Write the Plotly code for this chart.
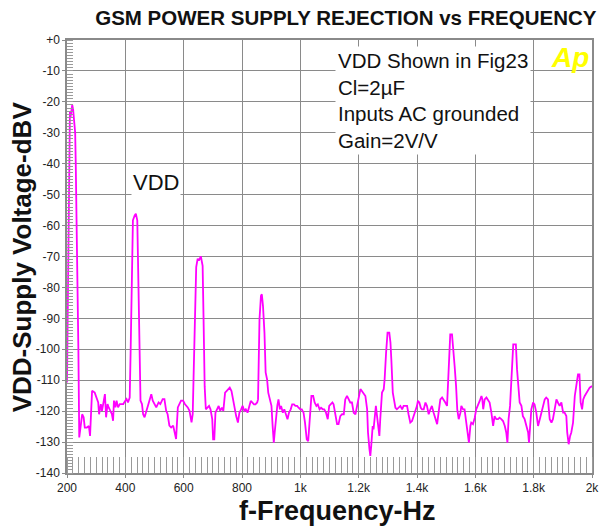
import plotly.graph_objects as go

freq_a = [200, 204, 207, 210, 212, 216, 218, 221, 225, 228,
          230, 232, 234, 236, 239, 242, 247, 252, 257, 261,
          268, 275, 279, 282, 286, 295, 302, 307, 310, 316,
          320, 326, 330, 334, 339, 343, 349, 354, 358, 361,
          366, 370, 375, 381, 386, 393, 400, 404, 409, 415,
          418, 423, 426, 432, 436, 441, 443, 448, 452, 457,
          461, 466, 472, 477]
dbv_a = [-110.7, -65, -36, -23, -25, -22, -21, -22.5, -27, -30,
         -40, -52, -67, -80, -100, -128.5, -125.3, -121, -122, -125.3,
         -125.3, -124.8, -128, -118.8, -113.4, -114, -115.6, -117.2, -121, -117.7,
         -119.9, -115.6, -114.5, -122, -117.7, -118.8, -119.9, -121, -123.1, -116.6,
         -118.8, -116.6, -118.8, -117.7, -117.7, -117.7, -116.6, -116.1, -117.2, -115.6,
         -101.5, -80, -58.3, -56.7, -56.2, -58.3, -70.2, -102.6, -116.6, -117.7,
         -121, -122, -119.9, -118.8]

freq_b = [483, 489, 494, 500, 506, 514, 520, 528, 534, 540,
          545, 551, 557, 564, 568, 574, 580, 585, 591, 598,
          604, 614, 620, 627, 631, 634, 639, 643, 648, 652]
dbv_b = [-116.6, -114.5, -116.6, -117.7, -118.8, -117.2, -117.7, -116.1, -116.1, -119.9,
         -121, -124.7, -125.3, -124.7, -126.3, -129, -118.8, -117.7, -116.6, -116.6,
         -117.7, -118.8, -119.9, -123.6, -121, -109, -90.7, -73.4, -70.7, -71.3]

freq_c = [659, 665, 668, 672, 676, 681, 687, 692, 698, 701,
          705, 709, 714, 720, 725, 731, 736, 742, 747, 753,
          758, 764, 769, 775, 780, 786, 791, 797, 802, 808,
          813, 819, 824, 830, 835, 841, 846, 852, 855, 857,
          860, 865, 868, 872, 877, 881, 886, 890, 896, 901,
          905, 909, 912, 916, 921, 925, 930, 934, 940, 945,
          951, 956, 961, 967, 972, 978, 983, 989, 994, 1000,
          1005, 1011, 1016, 1022, 1027, 1033, 1038, 1044, 1049, 1055,
          1060, 1066, 1071, 1077, 1082, 1088, 1094, 1099, 1104]
dbv_c = [-70, -73, -89, -112, -119.4, -118.9, -118.3, -119.4, -122.6, -129.1,
         -129.1, -120.5, -119.4, -118.3, -119.9, -118.9, -119.9, -114, -113.5, -112.9,
         -112.4, -113.5, -116.2, -118.3, -121.6, -123.7, -120.5, -119.4, -118.3, -119.9,
         -119.4, -120.5, -118.3, -116.7, -117.2, -117.8, -117.8, -117.2, -116.2, -103.2,
         -90.3, -82.7, -82.2, -86, -94.6, -107.5, -109.7, -114, -116.2, -118.3,
         -124.8, -130.2, -127, -122.6, -118.3, -116.2, -119.4, -118.3, -120.5, -119.4,
         -121.6, -122.6, -120.5, -119.4, -117.8, -117.8, -118.3, -118.3, -118.9, -119.4,
         -119.4, -120.5, -123.7, -129.1, -129.7, -119.4, -115.1, -115.1, -117.2, -118.3,
         -117.8, -119.4, -118.9, -119.4, -119.4, -120.5, -122.6, -118.3, -117.8]

freq_d = [1110, 1114, 1120, 1126, 1131, 1137, 1143, 1149, 1154, 1160,
          1166, 1171, 1177, 1183, 1189, 1194, 1200, 1206, 1211, 1217,
          1223, 1229, 1232, 1237, 1240, 1243, 1248, 1251, 1255, 1259,
          1263, 1266, 1271, 1274, 1278, 1280, 1286, 1289, 1294, 1299,
          1305, 1309, 1312, 1317, 1321, 1326, 1331, 1337, 1343, 1349,
          1354, 1360, 1366, 1371, 1377, 1383, 1389, 1394, 1400, 1403,
          1408, 1413, 1417, 1423, 1429, 1434, 1440, 1446, 1451, 1457,
          1463, 1469, 1474, 1480, 1486, 1491, 1497, 1503, 1506, 1511,
          1514, 1520, 1525, 1529, 1534, 1538, 1543, 1549]
dbv_d = [-117.2, -117.8, -120.5, -124.2, -124.2, -121.6, -121, -121, -116.2, -115.1,
         -116.2, -117.2, -117.2, -120.5, -121, -118.3, -115.1, -112.9, -113.5, -114.5,
         -115.1, -119.4, -126.9, -132.3, -134.5, -131.3, -124.8, -125.9, -122.6, -118.3,
         -121.6, -123.7, -128, -122.6, -118.3, -114, -112.9, -109.7, -101.1, -94.6,
         -94.6, -97.8, -103.2, -114, -116.2, -118.9, -119.4, -118.9, -118.3, -119.4,
         -118.3, -118.3, -118.3, -121, -123.7, -123.2, -121.6, -119.9, -118.3, -116.7,
         -117.2, -118.9, -119.4, -119.4, -117.2, -118.3, -121, -119.4, -118.3, -120.5,
         -122.1, -124.2, -120.5, -116.2, -115.6, -116.2, -117.2, -118.3, -110.8, -103.2,
         -95.2, -95.2, -100, -105.4, -111.9, -119.4, -122.6, -120.5]

freq_e = [1552, 1558, 1563, 1569, 1575, 1578, 1583, 1586, 1592, 1598,
          1603, 1609, 1615, 1621, 1624, 1627, 1632, 1638, 1643, 1649,
          1655, 1661, 1666, 1672, 1678, 1683, 1689, 1695, 1701, 1706,
          1710, 1714, 1719, 1723, 1727, 1730, 1735, 1739, 1743, 1746,
          1752, 1758, 1763, 1769, 1775, 1781, 1784, 1789, 1792, 1798,
          1803, 1809, 1815, 1821, 1826, 1832, 1838, 1843, 1849, 1855,
          1861, 1866, 1872, 1878, 1883, 1889, 1895, 1901, 1906, 1912,
          1915, 1920, 1925, 1929, 1935, 1941, 1946, 1952, 1957, 1961,
          1966, 1970, 1975, 1981, 1986, 1992, 2000]
dbv_e = [-118.3, -119.4, -119.4, -123.7, -126.9, -130.2, -124.8, -123.7, -124.2, -122.1,
         -119.4, -118.3, -116.7, -115.1, -116.2, -119.4, -116.2, -115.6, -116.2, -117.2,
         -120.5, -124.8, -121.6, -122.6, -122.6, -122.1, -122.6, -123.2, -124.8, -126.9,
         -130.2, -122.6, -118.3, -110.8, -105.4, -98.4, -98.4, -98.4, -106.5, -110.8,
         -117.2, -118.3, -121.6, -122.6, -124.8, -126.9, -130.2, -124.8, -119.4, -117.2,
         -117.8, -120.5, -124.8, -122.6, -120.5, -118.3, -116.2, -115.6, -116.2, -122.6,
         -123.7, -122.6, -119.4, -116.2, -117.2, -118.3, -117.2, -120.5, -120.5, -121.6,
         -126.9, -130.7, -128, -126.9, -123.7, -115.1, -111.9, -108.1, -108.1, -117.2,
         -119.4, -116.2, -115.1, -114, -113.5, -112.4, -111.9]

x_ticks = [200, 400, 600, 800, 1000, 1200, 1400, 1600, 1800, 2000]
x_labels = ["200", "400", "600", "800", "1k", "1.2k", "1.4k", "1.6k", "1.8k", "2k"]
y_ticks = list(range(0, -141, -10))
y_labels = ["+0"] + [str(v) for v in y_ticks[1:]]

notas = ["VDD Shown in Fig23", "Cl=2µF", "Inputs AC grounded", "Gain=2V/V"]

frecuencia = freq_a + freq_b + freq_c + freq_d + freq_e
nivel = dbv_a + dbv_b + dbv_c + dbv_d + dbv_e

ARIAL = "Liberation Sans, Arial, sans-serif"
GRID = "#8a8a8a"

fig = go.Figure()

fig.add_trace(
    go.Scatter(
        x=frecuencia,
        y=nivel,
        mode="lines",
        line=dict(color="#ff00ff", width=1.8),
        showlegend=False,
    )
)

fig.update_xaxes(
    range=[200, 2000],
    tickvals=x_ticks,
    ticktext=x_labels,
    showgrid=True, gridcolor=GRID, gridwidth=1.4,
    showline=True, linecolor=GRID, linewidth=1.5, mirror=True,
    ticks="outside", ticklen=3, tickcolor=GRID,
    tickfont=dict(family=ARIAL, size=12, color="#222"),
    minor=dict(tick0=200, dtick=20, ticks="inside", ticklen=16,
               tickcolor="#9a9a9a", tickwidth=1, showgrid=False),
    zeroline=False,
)

fig.update_yaxes(
    range=[-140, 0],
    tickvals=y_ticks,
    ticktext=y_labels,
    showgrid=True, gridcolor=GRID, gridwidth=1.4,
    showline=True, linecolor=GRID, linewidth=1.5, mirror=True,
    ticks="outside", ticklen=3, tickcolor=GRID,
    tickfont=dict(family=ARIAL, size=12, color="#222"),
    minor=dict(dtick=1, ticks="inside", ticklen=6,
               tickcolor="#9a9a9a", tickwidth=1, showgrid=False),
    zeroline=False,
)

# Titulos de los ejes como anotaciones para ubicarlos a mano
fig.add_annotation(
    text="<b>VDD-Supply Voltage-dBV</b>", xref="paper", yref="paper",
    x=-0.086, y=0.5, xanchor="center", yanchor="middle",
    textangle=-90, showarrow=False,
    font=dict(family=ARIAL, size=26, color="#111"),
)
fig.add_annotation(
    text="<b>f-Frequency-Hz</b>", xref="paper", yref="paper",
    x=0.515, y=-0.088, xanchor="center", yanchor="middle", showarrow=False,
    font=dict(family=ARIAL, size=27, color="#111"),
)

# Recuadro de condiciones
fig.add_annotation(
    text="<br>".join(notas), xref="paper", yref="paper",
    x=0.51, y=0.987, xanchor="left", yanchor="top", align="left",
    showarrow=False, bgcolor="white", borderpad=2,
    font=dict(family=ARIAL, size=20.5, color="#111"),
)

fig.add_annotation(
    text="VDD", x=505, y=-46, showarrow=False, bgcolor="white",
    font=dict(family=ARIAL, size=22, color="#111"),
)

fig.add_annotation(
    text="<b><i>Ap</i></b>", x=1925, y=-5.5, showarrow=False,
    font=dict(family=ARIAL, size=28, color="#ffff00"),
)

fig.update_layout(
    title=dict(text="<b>GSM POWER SUPPLY REJECTION vs FREQUENCY</b>",
               x=0.566, xanchor="center", y=0.967, yanchor="middle",
               font=dict(family=ARIAL, size=20.5, color="#111")),
    width=611, height=528,
    margin=dict(l=67, r=16, t=40, b=55),
    plot_bgcolor="white",
    paper_bgcolor="white",
)

# quitar el margen por defecto del body para que la figura quede en 0,0
fig.write_html("out.html", config={"displayModeBar": False},
               post_script="document.body.style.margin='0';")
